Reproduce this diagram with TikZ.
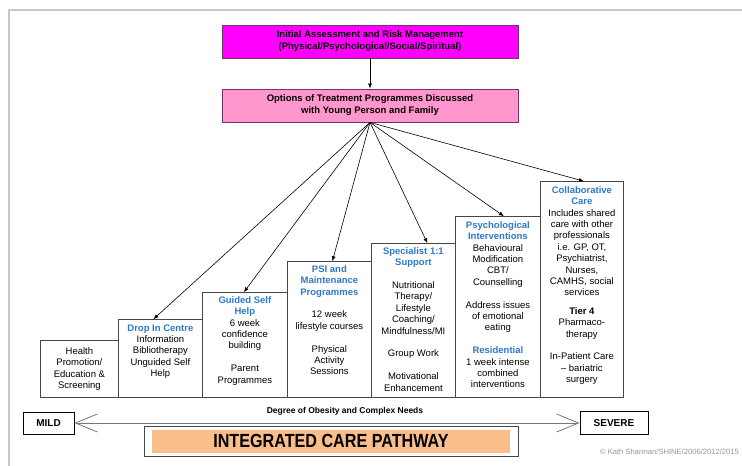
\documentclass[tikz,border=0pt]{standalone}
\usepackage{fontspec}
\setmainfont{Liberation Sans}
\usepackage{graphicx}
\usetikzlibrary{arrows.meta}

\definecolor{assessmag}{RGB}{255,0,255}
\definecolor{assessedge}{RGB}{110,50,110}
\definecolor{optpink}{RGB}{255,150,205}
\definecolor{headblue}{RGB}{45,120,200}
\definecolor{edge}{RGB}{70,70,70}
\definecolor{scalegray}{RGB}{120,120,120}
\definecolor{pathorange}{RGB}{250,190,140}
\definecolor{framegray}{RGB}{200,200,200}
\definecolor{creditgray}{RGB}{150,150,150}

\newcommand\stagehead[1]{{\color{headblue}\bfseries #1}}

\begin{document}
\begin{tikzpicture}[x=1pt,y=-1pt]
\tikzstyle{every node}+=[inner sep=1pt]
\tikzstyle{headbox}=[draw=assessedge,line width=0.8pt,minimum width=296,minimum height=33,align=center,font=\bfseries\fontsize{9.5}{12}\selectfont]
\tikzstyle{stage}=[draw=edge,line width=0.8pt,anchor=south west,inner sep=0pt]
\tikzstyle{stagetext}=[align=center,anchor=north,font=\fontsize{9.5}{11.4}\selectfont]
\tikzstyle{fan}=[-{Latex[length=5pt,width=4pt]},line width=0.6pt]
\tikzstyle{endbox}=[draw=black,line width=0.8pt,font=\bfseries\fontsize{10}{12}\selectfont]
\useasboundingbox (0,0) rectangle (742,466);
\draw[framegray,line width=1.5pt] (9,466) -- (9,10) -- (742,10);

% assessment and options
\node[headbox,fill=assessmag] (assess) at (370,41.5) {Initial Assessment and Risk Management\\(Physical/Psychological/Social/Spiritual)};
\node[headbox,fill=optpink] (options) at (370,105.5) {Options of Treatment Programmes Discussed\\with Young Person and Family};
\draw[fan] (assess) -- (options);

% the steps
\node[stage,minimum width=78,minimum height=57] (health) at (40,398) {};
\node[stage,minimum width=84,minimum height=78] (dropin) at (118,398) {};
\node[stage,minimum width=85,minimum height=105] (guided) at (202,398) {};
\node[stage,minimum width=84,minimum height=136] (psi) at (287,398) {};
\node[stage,minimum width=84,minimum height=154] (special) at (371,398) {};
\node[stage,minimum width=85,minimum height=181] (psych) at (455,398) {};
\node[stage,minimum width=83,minimum height=216] (collab) at (540,398) {};

\node[stagetext,anchor=center] (healthtxt) at (health.center) {Health\\Promotion/\\Education \&\\Screening};
\node[stagetext] (dropintxt) at ([yshift=-4pt]dropin.north) {\stagehead{Drop In Centre}\\Information\\Bibliotherapy\\Unguided Self\\Help};
\node[stagetext] (guidedtxt) at ([yshift=-3pt]guided.north) {\stagehead{Guided Self}\\\stagehead{Help}\\6 week\\confidence\\building\\[11.4pt]Parent\\Programmes};
\node[stagetext] (psitxt) at ([yshift=-3pt]psi.north) {\stagehead{PSI and}\\\stagehead{Maintenance}\\\stagehead{Programmes}\\[11.4pt]12 week\\lifestyle courses\\[11.4pt]Physical\\Activity\\Sessions};
\node[stagetext] (specialtxt) at ([yshift=-3pt]special.north) {\stagehead{Specialist 1:1}\\\stagehead{Support}\\[11.4pt]Nutritional\\Therapy/\\Lifestyle\\Coaching/\\Mindfulness/MI\\[11.4pt]Group Work\\[11.4pt]Motivational\\Enhancement};
\node[stagetext] (psychtxt) at ([yshift=-4pt]psych.north) {\stagehead{Psychological}\\\stagehead{Interventions}\\Behavioural\\Modification\\CBT/\\Counselling\\[11.4pt]Address issues\\of emotional\\eating\\[11.4pt]\stagehead{Residential}\\1 week intense\\combined\\interventions};
\node[stagetext] (collabtxt) at ([yshift=-4pt]collab.north) {\stagehead{Collaborative}\\\stagehead{Care}\\Includes shared\\care with other\\professionals\\i.e. GP, OT,\\Psychiatrist,\\Nurses,\\CAMHS, social\\services\\[7pt]\textbf{Tier 4}\\Pharmaco-\\therapy\\[11.4pt]In-Patient Care\\-- bariatric\\surgery};

% options to the steps
\draw[fan] (options.south) -- ([xshift=-7pt]dropin.north);
\draw[fan] (options.south) -- ([xshift=-1pt]guided.north);
\draw[fan] (options.south) -- ([xshift=3pt]psi.north);
\draw[fan] (options.south) -- ([xshift=14pt]special.north);
\draw[fan] (options.south) -- ([xshift=6pt]psych.north);
\draw[fan] (options.south) -- ([xshift=2pt]collab.north);

% scale of need
\node[endbox,minimum width=51,minimum height=22] (mild) at (48.5,423) {MILD};
\node[endbox,minimum width=68,minimum height=23] (severe) at (614,423) {SEVERE};
\draw[scalegray,line width=0.8pt,{Straight Barb[length=22pt,width=18pt]}-{Straight Barb[length=22pt,width=18pt]}] (mild) -- (severe);
\node[font=\bfseries\fontsize{8.5}{10}\selectfont] (degree) at (345,411) {Degree of Obesity and Complex Needs};

\node[draw=edge,line width=0.8pt,minimum width=374,minimum height=30] (pathway) at (331,441) {};
\node[fill=pathorange,minimum width=358,minimum height=23,font=\bfseries\fontsize{19}{22}\selectfont] (pathwaytxt) at (pathway.center) {\scalebox{0.85}[1]{INTEGRATED CARE PATHWAY}};

\node[text=creditgray,anchor=east,font=\fontsize{7.6}{9}\selectfont] (credit) at (740,452) {\textcopyright{} Kath Sharman/SHINE/2006/2012/2015};
\end{tikzpicture}
\end{document}
